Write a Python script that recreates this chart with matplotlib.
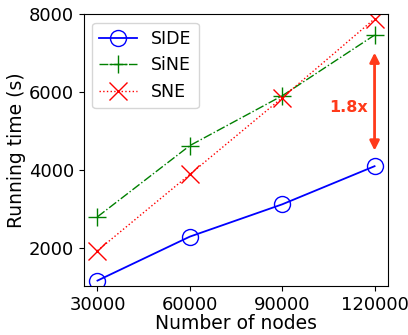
import matplotlib
matplotlib.use("Agg")
import matplotlib.pyplot as plt

nodes = [30000, 60000, 90000, 120000]
side = [1150, 2280, 3110, 4090]
sine = [2790, 4620, 5900, 7460]
sne = [1920, 3880, 5850, 7880]

plt.rcParams['font.family'] = ['DejaVu Sans']
fig, ax = plt.subplots(figsize=(4.08, 3.35), dpi=100)
fig.subplots_adjust(left=0.205, right=0.952, top=0.958, bottom=0.145)

ax.plot(nodes, side, color='blue', linestyle='-', marker='o', markersize=11.5,
        markerfacecolor='none', linewidth=1.3, label='SIDE')
ax.plot(nodes, sine, color='green', linestyle='-.', marker='+', markersize=13,
        linewidth=1.0, label='SiNE')
ax.plot(nodes, sne, color='red', linestyle=':', marker='x', markersize=12.5,
        linewidth=1.0, label='SNE')

ax.set_ylim(1000, 8000)
ax.set_yticks([2000, 4000, 6000, 8000])
ax.set_xticks(nodes)
ax.tick_params(labelsize=13)
ax.set_xlabel('Number of nodes', fontsize=13.5, labelpad=0)
ax.set_ylabel('Running time (s)', fontsize=13.5, labelpad=2)

# gap between SNE and SIDE at the largest graph
ax.annotate('', xy=(120000, 4420), xytext=(120000, 7080),
            arrowprops=dict(arrowstyle='<|-|>', color='#ff3a1a', lw=2,
                            mutation_scale=14))
ax.text(111500, 5600, '1.8x', color='#ff3a1a', fontsize=11.5, fontweight='bold',
        ha='center', va='center')

ax.legend(loc='upper left', fontsize=12.5, handlelength=2.2)
fig.savefig('out.png', dpi=100)
